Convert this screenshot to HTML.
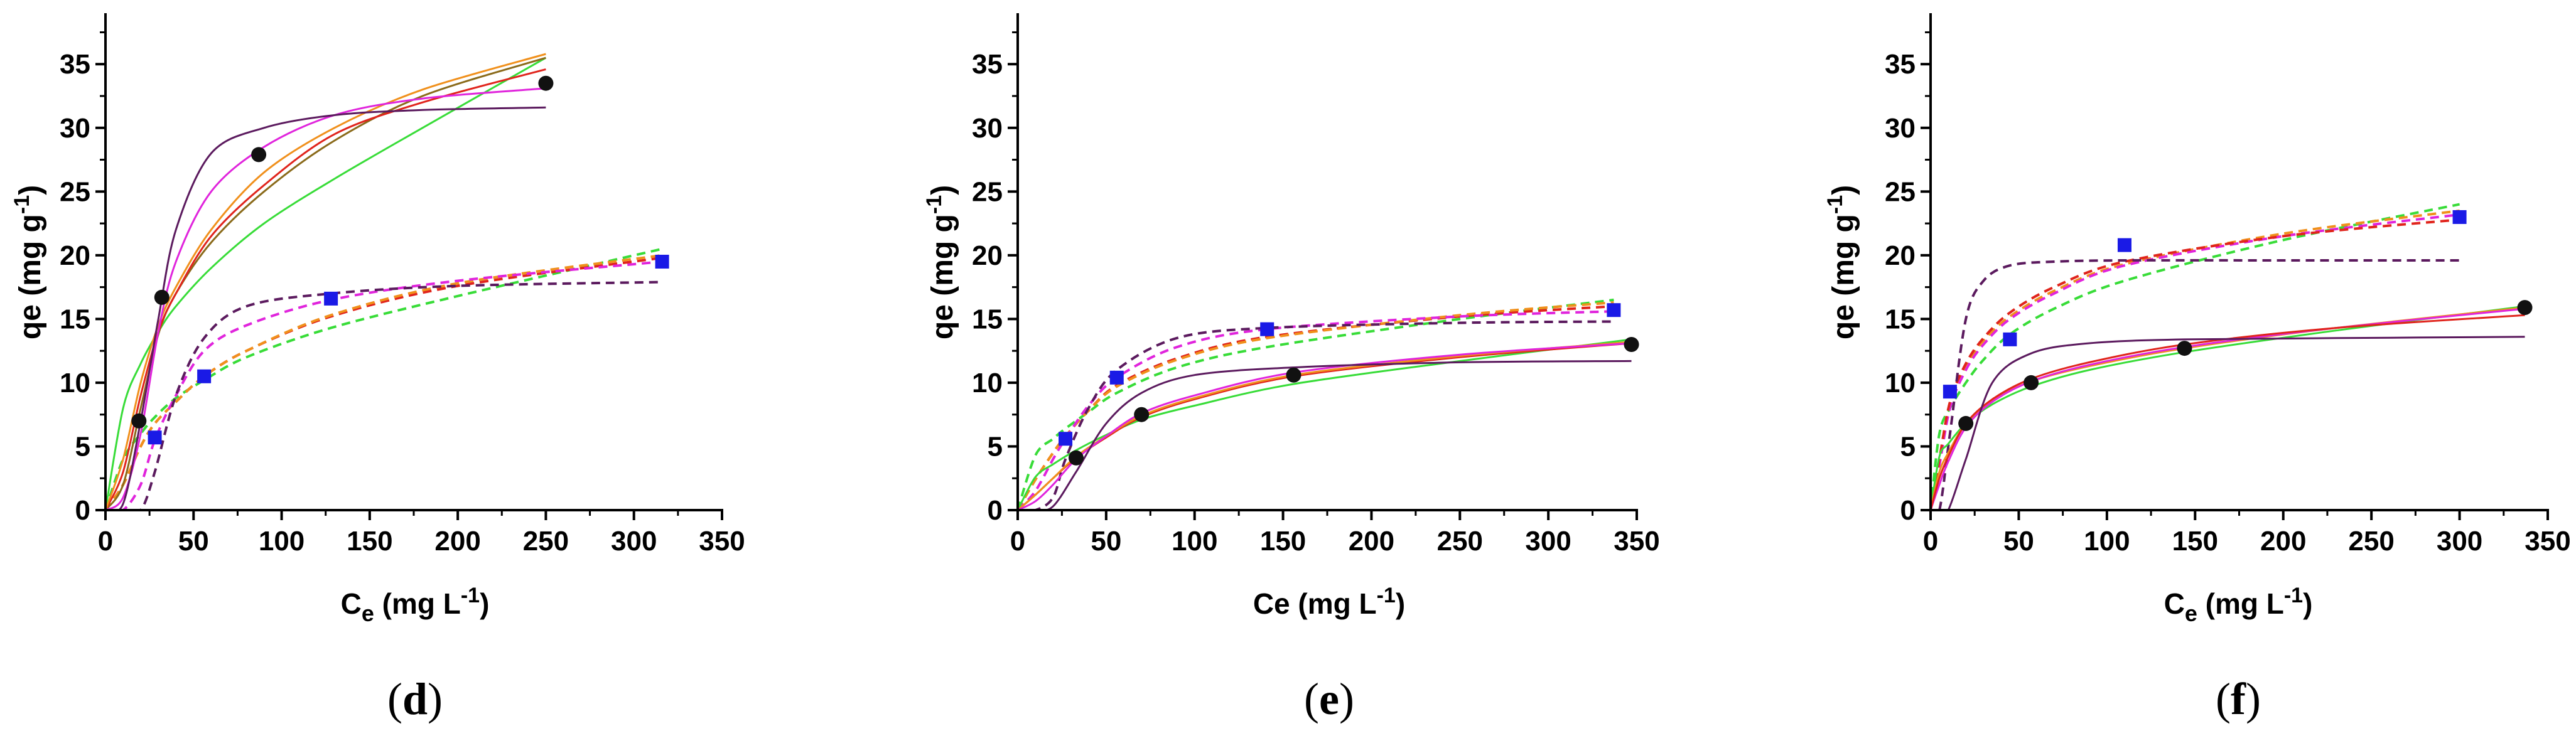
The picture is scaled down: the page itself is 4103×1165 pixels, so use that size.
<!DOCTYPE html>
<html><head><meta charset="utf-8">
<style>
html,body{margin:0;padding:0;background:#fff;}
svg{display:block;}
text{font-family:"Liberation Sans",sans-serif;}
text.cap{font-family:"Liberation Serif",serif;}
</style></head>
<body>
<svg id="fig" width="4103" height="1165" viewBox="0 0 4103 1165" xmlns="http://www.w3.org/2000/svg"></svg>
<script>
// ---------- Panel (d) data ----------
const dCircX = [19, 32, 87, 250];
const dCircY = [7.0, 16.7, 27.9, 33.5];
const dSqX = [28, 56, 128, 316];
const dSqY = [5.7, 10.5, 16.6, 19.5];
const dSolidX = [0, 10, 20, 30, 40, 60, 90, 130, 180, 250];
const dSolidPurple = [0, 0.5, 7, 15, 22, 28, 30, 31, 31.4, 31.6];
const dSolidMagenta = [0, 1, 6, 14, 19.5, 25, 28.5, 31, 32.3, 33.1];
const dSolidOrange = [0, 4, 10, 14.5, 17.5, 22, 26.5, 30, 33, 35.8];
const dSolidRed = [0, 3, 9, 14, 17, 21.5, 25.5, 29.5, 32, 34.6];
const dSolidOlive = [0, 2, 8, 13.8, 17, 21, 25, 29, 32.5, 35.5];
const dSolidGreen = [0, 8, 11.5, 14, 16, 19, 22.5, 26, 30, 35.5];
const dDashX = [0, 10, 20, 28, 40, 56, 80, 128, 200, 316];
const dDashPurple = [0, 0, 0, 3, 9, 13.5, 16, 17, 17.6, 17.9];
const dDashMagenta = [0, 0, 2, 5.5, 9, 12.5, 14.5, 16.5, 18, 19.5];
const dDashOrange = [0, 2, 5, 6.8, 8.5, 10.5, 12.5, 15.3, 17.8, 20];
const dDashRed = [0, 2, 5, 6.8, 8.5, 10.5, 12.5, 15.2, 17.6, 19.8];
const dDashGreen = [0, 4, 6, 7.3, 8.8, 10.2, 12, 14.3, 16.8, 20.5];
// ---------- Panel (e) data ----------
const eCircX = [33, 70, 156, 347];
const eCircY = [4.1, 7.5, 10.6, 13.0];
const eSqX = [27, 56, 141, 337];
const eSqY = [5.6, 10.4, 14.2, 15.7];
const eSolidX = [0, 10, 20, 33, 50, 70, 100, 156, 250, 347];
const eSolidPurple = [0, 0, 0.3, 3, 6.8, 9.2, 10.6, 11.2, 11.6, 11.7];
const eSolidMagenta = [0, 0.7, 2, 4, 5.8, 7.6, 9, 10.8, 12.2, 13.1];
const eSolidOrange = [0, 1.2, 2.5, 4.2, 5.8, 7.4, 8.8, 10.6, 12.1, 13.2];
const eSolidRed = [0, 1.2, 2.5, 4.1, 5.7, 7.3, 8.7, 10.5, 12, 13.1];
const eSolidGreen = [0, 2.6, 3.6, 4.7, 5.9, 7.1, 8.2, 9.9, 11.7, 13.4];
const eDashX = [0, 10, 20, 27, 40, 56, 90, 141, 250, 337];
const eDashPurple = [0, 0, 1, 4, 8, 11, 13.5, 14.3, 14.7, 14.8];
const eDashMagenta = [0, 1.5, 4, 5.6, 8.2, 10.4, 12.8, 14.2, 15.2, 15.6];
const eDashOrange = [0, 2.4, 4.5, 5.8, 7.8, 9.7, 11.8, 13.5, 15.3, 16.3];
const eDashRed = [0, 2.4, 4.5, 5.8, 7.8, 9.8, 11.9, 13.6, 15.2, 16];
const eDashGreen = [0, 4.3, 5.6, 6.4, 7.7, 9.2, 11.2, 12.8, 15, 16.5];
// ---------- Panel (f) data ----------
const fCircX = [20, 57, 144, 337];
const fCircY = [6.8, 10.0, 12.7, 15.9];
const fSqX = [11, 45, 110, 300];
const fSqY = [9.3, 13.4, 20.8, 23.0];
const fSolidX = [0, 5, 10, 20, 35, 57, 90, 144, 230, 337];
const fSolidPurple = [0, 0, 0, 4, 10, 12.3, 13.1, 13.4, 13.5, 13.6];
const fSolidRed = [0, 2.5, 4.2, 6.8, 8.7, 10.3, 11.6, 13, 14.3, 15.3];
const fSolidMagenta = [0, 2, 3.8, 6.5, 8.5, 10.1, 11.4, 12.8, 14.3, 15.8];
const fSolidOrange = [0, 3, 4.5, 6.8, 8.6, 10.1, 11.3, 12.7, 14.3, 15.9];
const fSolidGreen = [0, 4.2, 5.2, 6.8, 8.3, 9.7, 11, 12.4, 14.1, 16];
const fDashX = [0, 5, 11, 20, 30, 45, 70, 110, 200, 300];
const fDashPurple = [0, 0, 6, 15, 18, 19.2, 19.5, 19.6, 19.6, 19.6];
const fDashRed = [0, 4, 8.5, 11.5, 13.5, 15.5, 17.5, 19.5, 21.5, 22.8];
const fDashMagenta = [0, 3.5, 8, 11, 13, 15, 17, 19.2, 21.5, 23.2];
const fDashOrange = [0, 4, 8.3, 11.3, 13.3, 15.2, 17.2, 19.3, 21.7, 23.5];
const fDashGreen = [0, 6, 8, 10, 11.8, 13.8, 15.8, 18, 21.2, 24];
// ---------- Axis ticks ----------
const xTicks = [0, 50, 100, 150, 200, 250, 300, 350];
const yTicks = [0, 5, 10, 15, 20, 25, 30, 35];

const NS = "http://www.w3.org/2000/svg";
const svg = document.getElementById("fig");
const C = {purple:"#5b1a5e", magenta:"#e024dc", orange:"#f0901c", red:"#e0241c", olive:"#8a6a1a", green:"#38dc38"};

function mk(tag, attrs, parent){
  const el = document.createElementNS(NS, tag);
  for (const k in attrs) el.setAttribute(k, attrs[k]);
  (parent||svg).appendChild(el);
  return el;
}

function pathFrom(xs, ys, sx, sy){
  const P = xs.map((x,i)=>[sx(x), sy(Math.max(0, ys[i]))]);
  let d = "M"+P[0][0].toFixed(1)+","+P[0][1].toFixed(1);
  for (let i=0;i<P.length-1;i++){
    const p0=P[Math.max(0,i-1)], p1=P[i], p2=P[i+1], p3=P[Math.min(P.length-1,i+2)];
    const t=0.16;
    const c1=[p1[0]+(p2[0]-p0[0])*t, p1[1]+(p2[1]-p0[1])*t];
    const c2=[p2[0]-(p3[0]-p1[0])*t, p2[1]-(p3[1]-p1[1])*t];
    d += " C"+c1[0].toFixed(1)+","+c1[1].toFixed(1)+" "+c2[0].toFixed(1)+","+c2[1].toFixed(1)+" "+p2[0].toFixed(1)+","+p2[1].toFixed(1);
  }
  return d;
}

function panel(cfg){
  const g = mk("g", {});
  
  
  const sx = v => cfg.x0 + (v/350)*(cfg.x1-cfg.x0);
  const sy = v => cfg.y0 - (v/39)*(cfg.y0-cfg.yTop);
  const clipId = "clip"+cfg.id;
  const cp = mk("clipPath", {id:clipId}, g);
  mk("rect", {x:cfg.x0, y:cfg.yTop, width:cfg.x1-cfg.x0, height:cfg.y0-cfg.yTop}, cp);

  const curves = mk("g", {"clip-path":"url(#"+clipId+")"}, g);
  
  
  cfg.dashed.forEach(s=>{
    const p = mk("path", {d:pathFrom(cfg.dashX, s.v, sx, sy), fill:"none", stroke:s.c, "stroke-width":4, "stroke-dasharray":"14 9"}, curves);
    
    
  });
  cfg.solid.forEach(s=>{
    const p = mk("path", {d:pathFrom(cfg.solidX, s.v, sx, sy), fill:"none", stroke:s.c, "stroke-width":3}, curves);
    
    
  });

  cfg.circX.forEach((x,i)=>{
    const c = mk("circle", {cx:sx(x), cy:sy(cfg.circY[i]), r:12, fill:"#111"}, g);
    
    
  });
  cfg.sqX.forEach((x,i)=>{
    const r = mk("rect", {x:sx(x)-11, y:sy(cfg.sqY[i])-11, width:22, height:22, fill:"#1a1ae6"}, g);
    
    
  });

  const ax = mk("g", {stroke:"#000", "stroke-width":4}, g);
  
  
  mk("line", {x1:cfg.x0, y1:cfg.y0, x2:cfg.x1+2, y2:cfg.y0}, ax);
  mk("line", {x1:cfg.x0, y1:cfg.y0+2, x2:cfg.x0, y2:cfg.yTop}, ax);
  for (let v=0; v<=350; v+=25){
    const major = v%50===0;
    mk("line", {x1:sx(v), y1:cfg.y0, x2:sx(v), y2:cfg.y0+(major?16:9), "stroke-width":major?4:3}, ax);
  }
  for (let v=0; v<=37.5; v+=2.5){
    const major = v%5===0;
    mk("line", {x1:cfg.x0, y1:sy(v), x2:cfg.x0-(major?16:9), y2:sy(v), "stroke-width":major?4:3}, ax);
  }
  xTicks.forEach(v=>{
    const t = mk("text", {x:sx(v), y:cfg.y0+64, "text-anchor":"middle", "font-size":44, "font-weight":"bold"}, g);
    t.textContent = v;
    
    
  });
  yTicks.forEach(v=>{
    const t = mk("text", {x:cfg.x0-24, y:sy(v)+15, "text-anchor":"end", "font-size":44, "font-weight":"bold"}, g);
    t.textContent = v;
    
    
  });

  const xt = mk("text", {x:cfg.xTitleX, y:978, "text-anchor":"middle", "font-size":46, "font-weight":"bold"}, g);
  
  
  xt.innerHTML = cfg.sub ? 'C<tspan font-size="36" dy="12">e</tspan><tspan dy="-12"> (mg L</tspan><tspan font-size="34" dy="-18">-1</tspan><tspan dy="18">)</tspan>'
                          : 'Ce (mg L<tspan font-size="34" dy="-18">-1</tspan><tspan dy="18">)</tspan>';
  const yt = mk("text", {x:0, y:0, transform:"translate("+cfg.yTitleX+",418) rotate(-90)", "text-anchor":"middle", "font-size":48, "font-weight":"bold"}, g);
  
  
  yt.innerHTML = 'qe (mg g<tspan font-size="34" dy="-18">-1</tspan><tspan dy="18">)</tspan>';
  const cap = mk("text", {x:cfg.xTitleX, y:1138, "text-anchor":"middle", "font-size":72, "class":"cap"}, g);
  
  
  cap.innerHTML = '(<tspan font-weight="bold">'+cfg.id+'</tspan>)';
}

panel({id:"d", x0:168, x1:1150, y0:813, yTop:21, xTitleX:661, yTitleX:64, sub:true,
  circX:dCircX, circY:dCircY, sqX:dSqX, sqY:dSqY, solidX:dSolidX, dashX:dDashX,
  solid:[{n:"green",c:C.green,v:dSolidGreen},{n:"olive",c:C.olive,v:dSolidOlive},{n:"red",c:C.red,v:dSolidRed},{n:"orange",c:C.orange,v:dSolidOrange},{n:"magenta",c:C.magenta,v:dSolidMagenta},{n:"purple",c:C.purple,v:dSolidPurple}],
  dashed:[{n:"green",c:C.green,v:dDashGreen},{n:"red",c:C.red,v:dDashRed},{n:"orange",c:C.orange,v:dDashOrange},{n:"magenta",c:C.magenta,v:dDashMagenta},{n:"purple",c:C.purple,v:dDashPurple}]});
panel({id:"e", x0:1621, x1:2607, y0:813, yTop:21, xTitleX:2117, yTitleX:1517, sub:false,
  circX:eCircX, circY:eCircY, sqX:eSqX, sqY:eSqY, solidX:eSolidX, dashX:eDashX,
  solid:[{n:"green",c:C.green,v:eSolidGreen},{n:"red",c:C.red,v:eSolidRed},{n:"orange",c:C.orange,v:eSolidOrange},{n:"magenta",c:C.magenta,v:eSolidMagenta},{n:"purple",c:C.purple,v:eSolidPurple}],
  dashed:[{n:"green",c:C.green,v:eDashGreen},{n:"red",c:C.red,v:eDashRed},{n:"orange",c:C.orange,v:eDashOrange},{n:"magenta",c:C.magenta,v:eDashMagenta},{n:"purple",c:C.purple,v:eDashPurple}]});
panel({id:"f", x0:3075, x1:4058, y0:813, yTop:21, xTitleX:3565, yTitleX:2952, sub:true,
  circX:fCircX, circY:fCircY, sqX:fSqX, sqY:fSqY, solidX:fSolidX, dashX:fDashX,
  solid:[{n:"green",c:C.green,v:fSolidGreen},{n:"orange",c:C.orange,v:fSolidOrange},{n:"magenta",c:C.magenta,v:fSolidMagenta},{n:"red",c:C.red,v:fSolidRed},{n:"purple",c:C.purple,v:fSolidPurple}],
  dashed:[{n:"green",c:C.green,v:fDashGreen},{n:"orange",c:C.orange,v:fDashOrange},{n:"magenta",c:C.magenta,v:fDashMagenta},{n:"red",c:C.red,v:fDashRed},{n:"purple",c:C.purple,v:fDashPurple}]});
</script>
</body></html>
